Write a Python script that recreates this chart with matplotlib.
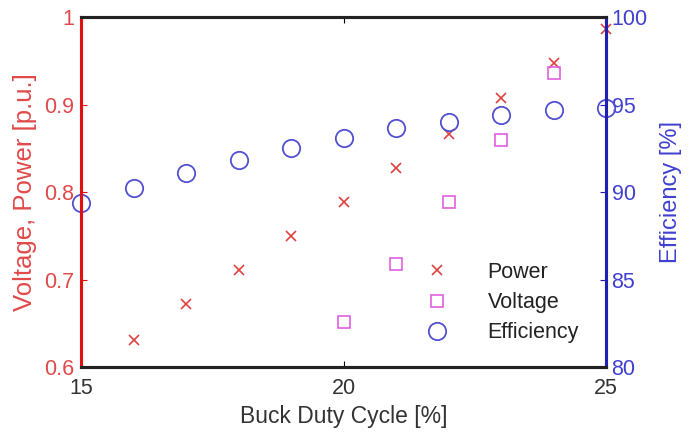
import matplotlib
matplotlib.use("Agg")
import matplotlib.pyplot as plt
from matplotlib.lines import Line2D

plt.rcParams['font.family'] = ['Liberation Sans', 'DejaVu Sans']

# ── Datos ────────────────────────────────────────────────────────────────────
duty_power = [16, 17, 18, 19, 20, 21, 22, 23, 24, 25]
power = [0.631, 0.672, 0.711, 0.750, 0.789, 0.827, 0.866, 0.908, 0.947, 0.986]

duty_volt = [20, 21, 22, 23, 24]
voltage = [0.651, 0.718, 0.789, 0.859, 0.936]

duty_eff = [15, 16, 17, 18, 19, 20, 21, 22, 23, 24, 25]
efficiency = [89.4, 90.25, 91.1, 91.85, 92.5, 93.1, 93.65, 94.0, 94.4, 94.7, 94.8]

ROJO = "#e01010"
ROJO_TXT = "#e04a4a"
AZUL = "#2020b0"
AZUL_TXT = "#4040d0"

fig = plt.figure(figsize=(6.96, 4.33), dpi=100)
ax = fig.add_axes([0.1164, 0.1524, 0.7543, 0.8083])
ax2 = ax.twinx()

ax.plot(duty_power, power, linestyle="none", marker="x", color="#e04040",
        markersize=7.5, markeredgewidth=1.2, clip_on=False)
ax.plot(duty_volt, voltage, linestyle="none", marker="s", markerfacecolor="none",
        markeredgecolor="#e060e0", markersize=9, markeredgewidth=1.2)
ax2.plot(duty_eff, efficiency, linestyle="none", marker="o", markerfacecolor="none",
         markeredgecolor="#5050d0", markersize=12.5, markeredgewidth=1.3, clip_on=False)

ax.set_xlim(15, 25)
ax.set_ylim(0.6, 1.0)
ax2.set_ylim(80, 100)
ax.set_xticks([15, 20, 25])
ax.set_yticks([0.6, 0.7, 0.8, 0.9, 1.0])
ax.set_yticklabels(["0.6", "0.7", "0.8", "0.9", "1"])
ax2.set_yticks([80, 85, 90, 95, 100])

ax.tick_params(axis="x", direction="in", top=True, length=4, labelsize=15.5,
               colors="black", labelcolor="#333333", pad=8)
ax.tick_params(axis="y", direction="in", length=4, labelsize=15.5, colors=ROJO, labelcolor=ROJO_TXT, pad=5)
ax2.tick_params(axis="y", direction="in", length=4, labelsize=15.5, colors=AZUL, labelcolor=AZUL_TXT, pad=4)

for a in (ax, ax2):
    for s in a.spines.values():
        s.set_linewidth(2.2)
    a.spines["top"].set_color("#222222")
    a.spines["bottom"].set_color("#222222")
ax2.spines["left"].set_color(ROJO)
ax2.spines["right"].set_color(AZUL)
ax.spines["left"].set_color(ROJO)

ax.set_xlabel("Buck Duty Cycle [%]", fontsize=16.5, color="#333333", labelpad=4)
ax.set_ylabel("Voltage, Power [p.u.]", fontsize=18.5, color=ROJO_TXT, labelpad=5)
ax2.set_ylabel("Efficiency [%]", fontsize=17, color=AZUL_TXT, labelpad=9)

handles = [
    Line2D([], [], linestyle="none", marker="x", color="#e04040", markersize=7.5, markeredgewidth=1.2),
    Line2D([], [], linestyle="none", marker="s", markerfacecolor="none", markeredgecolor="#e060e0",
           markersize=9, markeredgewidth=1.2),
    Line2D([], [], linestyle="none", marker="o", markerfacecolor="none", markeredgecolor="#5050d0",
           markersize=12.5, markeredgewidth=1.3),
]
leg = ax2.legend(handles, ["Power", "Voltage", "Efficiency"], loc="upper left",
                 bbox_to_anchor=(0.648, 0.30), frameon=False, fontsize=15.5,
                 handlelength=1.5, handletextpad=1.58, labelspacing=0.42,
                 borderpad=0, borderaxespad=0)
for t in leg.get_texts():
    t.set_color("#222222")

fig.savefig("out.png", dpi=100)
